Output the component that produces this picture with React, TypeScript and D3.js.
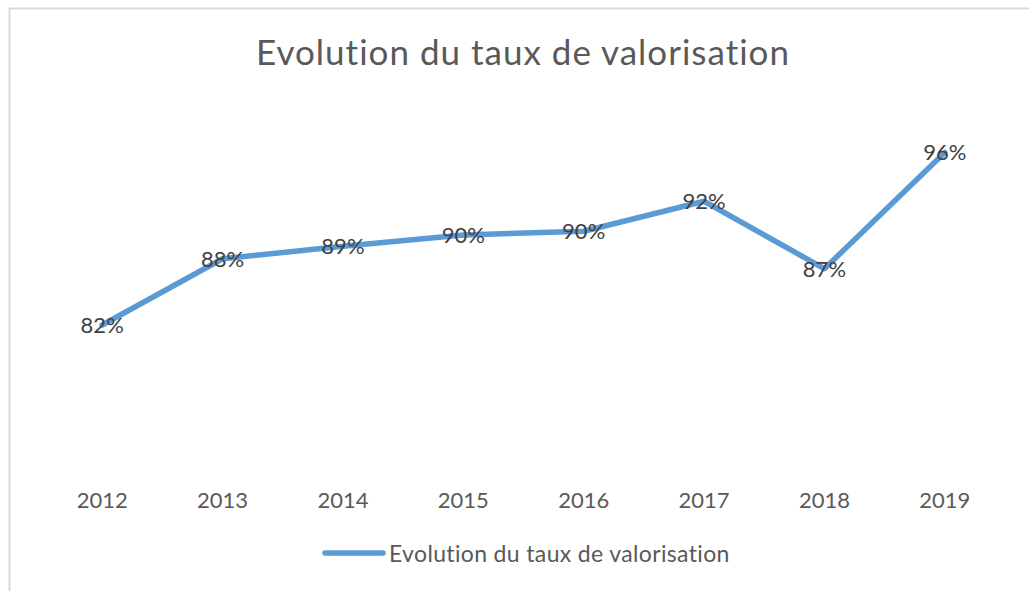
import React, { useEffect, useRef } from "react";
import * as d3 from "d3";

const years = ["2012", "2013", "2014", "2015", "2016", "2017", "2018", "2019"];
const rates = [0.824, 0.877, 0.887, 0.896, 0.899, 0.923, 0.869, 0.962];
const seriesName = "Evolution du taux de valorisation";
const chartTitle = "Evolution du taux de valorisation";

const WIDTH = 1029;
const HEIGHT = 591;
const FONT = "Lato, 'Open Sans', sans-serif";

const App: React.FC = () => {
  const svgRef = useRef<SVGSVGElement | null>(null);

  useEffect(() => {
    if (!svgRef.current) return;
    const svg = d3.select(svgRef.current);
    svg.selectAll("*").remove();

    // chart frame (only top and left edges fall inside the picture)
    svg.append("rect")
      .attr("x", 0).attr("y", 0)
      .attr("width", WIDTH).attr("height", HEIGHT)
      .attr("fill", "white");
    svg.append("rect")
      .attr("x", 9.5).attr("y", 8.5)
      .attr("width", WIDTH + 20).attr("height", HEIGHT + 20)
      .attr("fill", "white")
      .attr("stroke", "#d9d9d9")
      .attr("stroke-width", 2);

    const x = d3.scaleBand<string>().domain(years).range([42, 1005]);
    const y = d3.scaleLinear().domain([0.7, 1.0]).range([480, 105]);
    const cx = (d: string) => x(d)! + x.bandwidth() / 2;

    // title
    svg.append("text")
      .attr("x", 523)
      .attr("y", 65)
      .attr("text-anchor", "middle")
      .attr("font-family", FONT)
      .attr("font-size", 35)
      .attr("letter-spacing", 1)
      .style("font-variant-ligatures", "none")
      .attr("fill", "#595959")
      .text(chartTitle);

    // category axis labels (no axis line)
    svg.append("g")
      .selectAll("text")
      .data(years)
      .join("text")
      .attr("x", d => cx(d))
      .attr("y", 508)
      .attr("text-anchor", "middle")
      .attr("font-family", FONT)
      .attr("font-size", 22)
      .attr("fill", "#595959")
      .text(d => d);

    const line = d3.line<number>()
      .x((_, i) => cx(years[i]))
      .y(d => y(d));

    svg.append("path")
      .datum(rates)
      .attr("d", line)
      .attr("fill", "none")
      .attr("stroke", "#5b9bd5")
      .attr("stroke-width", 5.5)
      .attr("stroke-linecap", "round")
      .attr("stroke-linejoin", "round");

    // data labels centred on the points
    svg.append("g")
      .selectAll("text")
      .data(rates)
      .join("text")
      .attr("x", (_, i) => cx(years[i]))
      .attr("y", d => y(d))
      .attr("dy", "0.36em")
      .attr("text-anchor", "middle")
      .attr("font-family", FONT)
      .attr("font-size", 22)
      .attr("fill", "#404040")
      .text(d => d3.format(".0%")(d));

    // legend
    const legend = svg.append("g").attr("transform", "translate(325,553)");
    legend.append("line")
      .attr("x1", 0).attr("x2", 58)
      .attr("y1", 0).attr("y2", 0)
      .attr("stroke", "#5b9bd5")
      .attr("stroke-width", 5.5)
      .attr("stroke-linecap", "round");
    legend.append("text")
      .attr("x", 64)
      .attr("y", 9)
      .attr("font-family", FONT)
      .attr("font-size", 23)
      .attr("letter-spacing", 0.35)
      .style("font-variant-ligatures", "none")
      .attr("fill", "#595959")
      .text(seriesName);
  }, []);

  return (
    <svg
      ref={svgRef}
      width={WIDTH}
      height={HEIGHT}
      style={{ position: "absolute", left: 0, top: 0, display: "block" }}
    />
  );
};

export default App;
